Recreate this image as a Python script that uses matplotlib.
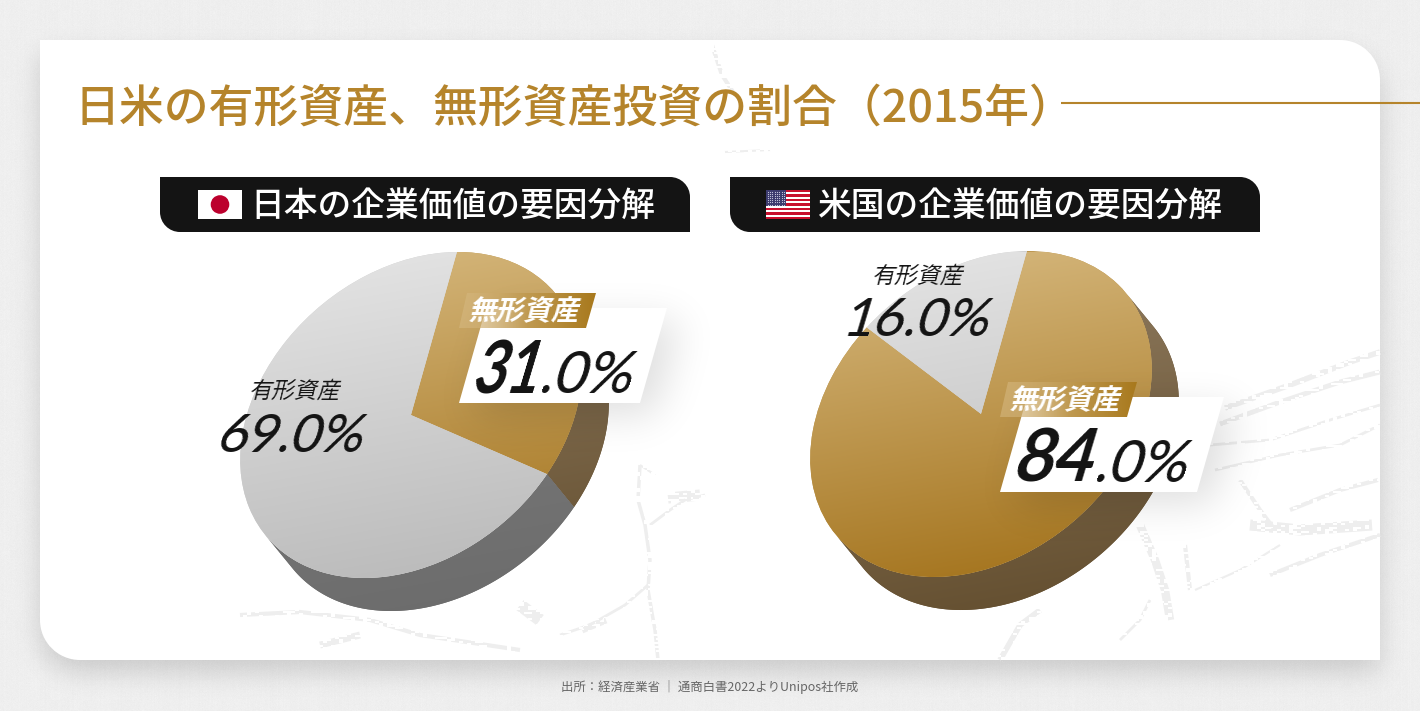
import numpy as np
import matplotlib
matplotlib.use("Agg")
import matplotlib.pyplot as plt
from matplotlib.patches import Polygon, Rectangle, Circle, PathPatch
from matplotlib.path import Path
from matplotlib.transforms import Affine2D

# ---- chart values ----
asset_labels = ["無形資産", "有形資産"]
japan_shares = [31.0, 69.0]
us_shares = [84.0, 16.0]
title_text = "日米の有形資産、無形資産投資の割合（2015年）"
japan_heading = "日本の企業価値の要因分解"
us_heading = "米国の企業価値の要因分解"
source_text = "出所：経済産業省 ｜ 通商白書2022よりUnipos社作成"

# ---- palette ----
GOLD = "#b5842b"
INK = "#141414"
GOLD_TOP, GOLD_BOTTOM = "#d3b478", "#a5751f"
GREY_TOP, GREY_BOTTOM = "#e2e2e2", "#bbbbbb"
BROWN_TOP, BROWN_BOTTOM = "#927e62", "#644f30"
SLATE_TOP, SLATE_BOTTOM = "#808080", "#6c6c6c"

JP = ["Noto Sans CJK JP", "DejaVu Sans"]
NUM = ["Lato", "Open Sans", "DejaVu Sans"]

fig = plt.figure(figsize=(14.2, 7.11), dpi=100)
ax = fig.add_axes([0, 0, 1, 1])
ax.set_xlim(0, 1420)
ax.set_ylim(711, 0)
ax.axis("off")

grain = np.random.default_rng(11)


def rgb(hex_color):
    return np.array(matplotlib.colors.to_rgb(hex_color))


def shear_filter(k, squeeze=1.0):
    """Slant rendered text (top moves right) and optionally narrow it."""
    def apply(img, dpi):
        h, w, _ = img.shape
        pad = int(np.ceil(k * h / 2)) + 2
        out = np.zeros((h, w + 2 * pad, 4), dtype=float)
        cols = np.arange(w + 2 * pad)
        mid = (w - 1) / 2
        for i in range(h):
            shift = k * ((h - 1) / 2 - i)
            src = (cols - pad - mid - shift) / squeeze + mid
            for c in range(4):
                out[i, :, c] = np.interp(src, np.arange(w), img[i, :, c], left=0, right=0)
        return out, -pad, 0
    return apply


def blur_filter(sigma_px, strength):
    """Turn a shape into a soft black shadow."""
    def apply(img, dpi):
        pad = int(3 * sigma_px)
        alpha = np.pad(img[:, :, 3], pad)
        x = np.arange(-pad, pad + 1)
        kernel = np.exp(-x**2 / (2 * sigma_px**2))
        kernel /= kernel.sum()
        alpha = np.apply_along_axis(lambda m: np.convolve(m, kernel, mode="same"), 0, alpha)
        alpha = np.apply_along_axis(lambda m: np.convolve(m, kernel, mode="same"), 1, alpha)
        out = np.zeros(alpha.shape + (4,))
        out[:, :, 3] = alpha * strength
        return out, -pad, -pad
    return apply


def dry_brush_filter(img, dpi):
    """Break a solid stroke into the speckled look of a dry brush."""
    h, w, _ = img.shape
    coarse = grain.random((h // 2 + 1, w // 4 + 1))
    mask = np.kron(coarse, np.ones((2, 4)))[:h, :w] > 0.3
    out = img.copy()
    out[:, :, 3] *= mask
    return out, 0, 0


def gradient_fill(clip, x0, x1, y0, y1, top, bottom, tilt=0.18, zorder=2):
    """Fill a clip patch with a vertical gradient whose bands lean slightly."""
    xs = np.arange(x0, x1)
    ys = np.arange(y0, y1)
    X, Y = np.meshgrid(xs, ys)
    t = np.clip((Y + tilt * (X - (x0 + x1) / 2) - y0) / (y1 - y0), 0, 1)[..., None]
    img = (1 - t) * rgb(top) + t * rgb(bottom)
    im = ax.imshow(img, extent=(x0, x1, y1, y0), zorder=zorder, interpolation="bilinear", aspect="auto")
    im.set_clip_path(clip)
    return im


def rounded_card(x0, y0, x1, y1, r):
    """Rectangle with the top-right and bottom-left corners rounded."""
    k = 0.5523 * r
    verts = [(x0, y0), (x1 - r, y0),
             (x1 - r + k, y0), (x1, y0 + r - k), (x1, y0 + r),
             (x1, y1), (x0 + r, y1),
             (x0 + r - k, y1), (x0, y1 - r + k), (x0, y1 - r),
             (x0, y0)]
    codes = [Path.MOVETO, Path.LINETO, Path.CURVE4, Path.CURVE4, Path.CURVE4,
             Path.LINETO, Path.LINETO, Path.CURVE4, Path.CURVE4, Path.CURVE4,
             Path.CLOSEPOLY]
    return Path(verts, codes)


# ---- paper background: fine grain with faint vertical fibres ----
paper = (238 + grain.normal(0, 1.0, (711, 1420))
         + np.kron(grain.normal(0, 0.5, (72, 142)), np.ones((10, 10)))[:711, :1420]
         + grain.normal(0, 0.4, (1, 1420)))
ax.imshow(paper, cmap="gray", vmin=0, vmax=255, extent=(0, 1420, 711, 0), zorder=0,
          aspect="auto", interpolation="bilinear")

# ---- white card and its shadow ----
shadow = PathPatch(rounded_card(40, 54, 1380, 672, 40), fc="black", ec="none", zorder=0.5)
shadow.set_agg_filter(blur_filter(13, 0.15))
ax.add_patch(shadow)
ax.add_patch(PathPatch(rounded_card(40, 40, 1380, 660, 40), fc="white", ec="none", zorder=1))

# ---- faint brush marks on the card ----
brush_marks = [
    ([(1220, 424), (1280, 402), (1340, 382), (1380, 372)], 3.5),
    ([(1225, 408), (1290, 385), (1350, 362), (1380, 352)], 4.0),
    ([(1210, 445), (1270, 440), (1330, 420), (1380, 405)], 2.0),
    ([(1215, 470), (1280, 455), (1340, 445), (1380, 425)], 2.0),
    ([(1240, 480), (1260, 510), (1275, 530)], 3.0),
    ([(1250, 525), (1300, 530), (1372, 525)], 8.0),
    ([(1290, 510), (1340, 490), (1378, 480)], 3.0),
    ([(1270, 575), (1320, 555), (1380, 535)], 3.0),
    ([(1195, 590), (1240, 570), (1280, 545)], 1.5),
    ([(1140, 525), (1155, 560), (1165, 590), (1170, 620)], 6.0),
    ([(1185, 545), (1190, 590)], 3.0),
    ([(1000, 660), (1020, 625), (1040, 610)], 4.0),
    ([(1120, 640), (1140, 620), (1150, 600)], 2.0),
    ([(640, 465), (638, 500), (645, 525), (650, 560), (648, 590), (655, 630), (658, 660)], 2.5),
    ([(650, 525), (670, 510), (685, 500), (705, 495)], 2.0),
    ([(668, 498), (700, 495)], 8.0),
    ([(640, 465), (655, 475)], 1.5),
    ([(560, 635), (590, 625), (625, 605), (648, 585)], 2.0),
    ([(582, 630), (606, 620)], 5.0),
    ([(520, 605), (540, 620)], 9.0),
    ([(240, 615), (300, 612), (370, 620), (420, 635), (520, 650)], 3.0),
    ([(320, 645), (360, 635)], 5.0),
    ([(712, 45), (722, 75), (735, 95)], 3.0),
    ([(725, 152), (770, 150)], 1.5),
]
for pts, width in brush_marks:
    xs, ys = zip(*pts)
    stroke, = ax.plot(xs, ys, color="#eeeeee", lw=width, solid_capstyle="butt", zorder=1.1,
                      scalex=False, scaley=False)
    stroke.set_agg_filter(dry_brush_filter)

# ---- title and rule ----
ax.text(74, 122, title_text, family=JP, fontsize=32.3, color=GOLD, fontweight="medium",
        va="baseline", ha="left", zorder=6)
ax.plot([1061, 1420], [103, 103], color=GOLD, lw=1.5, solid_capstyle="butt", zorder=6)

# ---- panel headings ----
for x0, heading, tx in [(160, japan_heading, 250), (730, us_heading, 818)]:
    ax.add_patch(PathPatch(rounded_card(x0, 177, x0 + 530, 232, 20), fc=INK, ec="none", zorder=3))
    ax.text(tx, 217, heading, family=JP, fontsize=24.3, color="white", fontweight="medium",
            va="baseline", ha="left", zorder=6)

# Japanese flag
ax.add_patch(Rectangle((198, 190), 44, 29, fc="white", ec="none", zorder=6))
ax.add_patch(Circle((220, 204.5), 9.3, fc="#bc002d", ec="none", zorder=7))

# American flag
stripe_h = 29 / 13
for i in range(13):
    ax.add_patch(Rectangle((766, 190 + i * stripe_h), 44, stripe_h + 0.1,
                           fc="#c8102e" if i % 2 == 0 else "white", ec="none", zorder=6))
ax.add_patch(Rectangle((766, 190), 20, 7 * stripe_h, fc="#3c3b6e", ec="none", zorder=7))
sx, sy = np.meshgrid(np.arange(767.5, 786, 2.4), np.arange(191.5, 205, 2.2))
ax.scatter(sx.ravel(), sy.ravel(), s=0.7, c="#c9cbe0", linewidths=0, zorder=8)

# ---- pies: a flat disc seen from an angle, with an extruded edge ----
PIE_SCALE = (164.5, -1.0, 46.0, -163.0)
DEPTH = np.array([27.0, 33.0])


def draw_pie(shares, cx, cy):
    colours = [(GOLD_TOP, GOLD_BOTTOM, BROWN_TOP, BROWN_BOTTOM),
               (GREY_TOP, GREY_BOTTOM, SLATE_TOP, SLATE_BOTTOM)]
    disc = Affine2D.from_values(*PIE_SCALE, cx, cy)
    # direction on the unit disc in which the extrusion points; only that half of the rim shows
    out_dir = np.linalg.solve(disc.get_matrix()[:2, :2], DEPTH)
    wedges, _ = ax.pie(shares, startangle=90, counterclock=False, radius=1, frame=True)
    x0, x1 = int(cx - 180), int(cx + 210)
    y0, y1 = 245, 620
    for wedge, (top, bottom, side_top, side_bottom) in zip(wedges, colours):
        angles = np.radians(np.linspace(wedge.theta1, wedge.theta2, 400))
        rim = np.column_stack([np.cos(angles), np.sin(angles)])
        rim = rim[rim @ out_dir > 0]
        if len(rim) < 2:
            continue
        arc = disc.transform(rim)
        wall = Polygon(np.vstack([arc, (arc + DEPTH)[::-1]]), closed=True, fc=side_bottom, ec="none",
                       zorder=2, transform=ax.transData)
        ax.add_patch(wall)
        gradient_fill(wall, x0, x1, y0, y1, side_top, side_bottom, zorder=2.1)
    for wedge, (top, bottom, _, _) in zip(wedges, colours):
        wedge.set_transform(disc + ax.transData)
        wedge.set_facecolor(rgb(top) * 0.5 + rgb(bottom) * 0.5)
        wedge.set_edgecolor("none")
        wedge.set_zorder(2.2)
        gradient_fill(wedge, x0, x1, 252, 578, top, bottom, zorder=2.3)


draw_pie(japan_shares, 411, 415)
draw_pie(us_shares, 981, 414)
ax.set_xlim(0, 1420)
ax.set_ylim(711, 0)
ax.axis("off")


def value_parts(v):
    whole, frac = f"{v:.1f}".split(".")
    return whole, f".{frac}%"


def callout(value, dx, dy, plate_w, big_x, small_x, squeeze):
    """White slanted plate with a gold tag and the headline percentage."""
    plate = [(459 + dx, 403 + dy), (459 + plate_w + dx, 403 + dy),
             (486 + plate_w + dx, 308 + dy), (486 + dx, 308 + dy)]
    soft = Polygon([(px + 14, py + 12) for px, py in plate], closed=True, fc="black", ec="none", zorder=3)
    soft.set_agg_filter(blur_filter(20, 0.13))
    ax.add_patch(soft)
    ax.add_patch(Polygon(plate, closed=True, fc="white", ec="none", zorder=3.2))

    tag = Polygon([(459 + dx, 328 + dy), (586 + dx, 328 + dy), (596 + dx, 293 + dy), (467 + dx, 293 + dy)],
                  closed=True, fc="none", ec="none", zorder=3.4)
    ax.add_patch(tag)
    ramp = np.linspace(0, 1, 140)[None, :, None]
    tag_rgba = np.concatenate([(1 - ramp) * rgb("#d8bb85") + ramp * rgb("#a8791d"),
                               0.55 + 0.45 * np.clip(ramp * 2, 0, 1)], axis=2)
    im = ax.imshow(tag_rgba, extent=(459 + dx, 596 + dx, 328 + dy, 293 + dy), zorder=3.5, aspect="auto")
    im.set_clip_path(tag)

    label = ax.text(526 + dx, 320 + dy, asset_labels[0], family=JP, fontsize=20, fontweight="bold",
                    color="white", ha="center", va="baseline", zorder=6)
    label.set_agg_filter(shear_filter(0.24))

    whole, rest = value_parts(value)
    big = ax.text(big_x, 393 + dy, whole, family=NUM, fontsize=52, fontweight="bold", color=INK,
                  ha="center", va="baseline", zorder=6)
    big.set_agg_filter(shear_filter(0.3, squeeze))
    small = ax.text(small_x, 393 + dy, rest, family=NUM, fontsize=41, fontweight="medium", color=INK,
                    ha="center", va="baseline", zorder=6)
    small.set_agg_filter(shear_filter(0.3))


def plain_label(value, label_x, label_y, num_x, num_y):
    t = ax.text(label_x, label_y, asset_labels[1], family=JP, fontsize=16.5, color=INK,
                ha="center", va="baseline", zorder=6)
    t.set_agg_filter(shear_filter(0.24))
    whole, rest = value_parts(value)
    n = ax.text(num_x, num_y, whole + rest, family=NUM, fontsize=38, fontweight="medium", color=INK,
                ha="center", va="baseline", zorder=6)
    n.set_agg_filter(shear_filter(0.3))


callout(japan_shares[0], 0, 0, 181, 511, 590, 0.8)
callout(us_shares[0], 541, 89, 197, 1058, 1145, 0.95)
plain_label(japan_shares[1], 296, 398, 294, 452)
plain_label(us_shares[1], 919, 283, 920, 336)

# ---- source note ----
ax.text(709.5, 691, source_text, family=JP, fontsize=8.95, color="#666666", ha="center", va="baseline", zorder=6)

fig.savefig("out.png", dpi=100)
